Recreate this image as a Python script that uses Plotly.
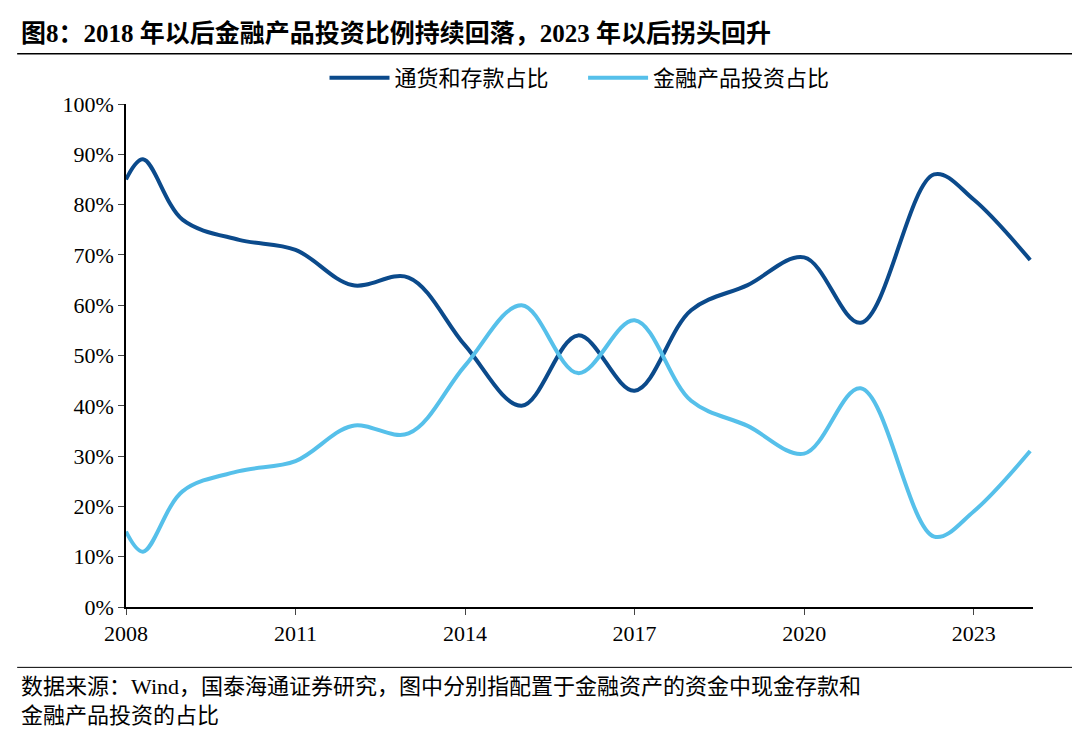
import plotly.graph_objects as go

years = [2008, 2008.3, 2009, 2010, 2011, 2012, 2013, 2014, 2015, 2016, 2017, 2018, 2019, 2020, 2021, 2022.3, 2023, 2024]
cash_dep = [85, 89, 77, 73, 71, 64, 65.5, 52, 40, 54, 43, 59, 64, 69.5, 56.5, 86, 81, 69]
fin_prod = [15, 11, 23, 27, 29, 36, 34.5, 48, 60, 46.5, 57, 41, 36, 30.5, 43.5, 14, 19, 31]

serif = "Liberation Serif, Noto Sans CJK SC"

fig = go.Figure()
fig.add_trace(go.Scatter(x=years, y=cash_dep, mode="lines", name="通货和存款占比      ",
                         line=dict(color="#0b4a8b", width=4, shape="spline", smoothing=1)))
fig.add_trace(go.Scatter(x=years, y=fin_prod, mode="lines", name="金融产品投资占比",
                         line=dict(color="#56c0ea", width=4, shape="spline", smoothing=1)))

fig.update_layout(
    width=1080, height=739, plot_bgcolor="white", paper_bgcolor="white",
    margin=dict(l=118, r=55, t=96, b=140),
    font=dict(family=serif, size=22, color="black"),
    legend=dict(orientation="h", x=0.5, xanchor="center", y=1.01, yanchor="bottom",
                font=dict(size=22, family="Noto Sans CJK SC"), itemwidth=60),
    showlegend=True,
)
fig.update_xaxes(range=[2008, 2024.05], tickvals=[2008, 2011, 2014, 2017, 2020, 2023],
                 showline=True, linecolor="black", linewidth=1.5, ticks="outside",
                 ticklen=6, showgrid=False, zeroline=False)
fig.update_yaxes(range=[0, 100], dtick=10, ticksuffix="%", showline=True, linecolor="black",
                 linewidth=1.5, ticks="outside", ticklen=6, showgrid=False, zeroline=False)

fig.add_annotation(text="<b>图8：2018 年以后金融产品投资比例持续回落，2023 年以后拐头回升</b>",
                   xref="paper", yref="paper", x=-0.118, y=1.11, xanchor="left", yanchor="bottom",
                   showarrow=False, font=dict(size=25, family="Liberation Serif, Noto Sans CJK SC"))
fig.add_shape(type="line", xref="paper", yref="paper", x0=-0.12, x1=1.06, y0=1.10, y1=1.10,
              line=dict(color="black", width=1.5))
fig.add_shape(type="line", xref="paper", yref="paper", x0=-0.12, x1=1.06, y0=-0.12, y1=-0.12,
              line=dict(color="black", width=1))
fig.add_annotation(text="数据来源：Wind，国泰海通证券研究，图中分别指配置于金融资产的资金中现金存款和<br>金融产品投资的占比",
                   xref="paper", yref="paper", x=-0.118, y=-0.13, xanchor="left", yanchor="top",
                   align="left", showarrow=False,
                   font=dict(size=22, family="Liberation Serif, Noto Sans CJK SC"))

fig.write_html("out.html")
